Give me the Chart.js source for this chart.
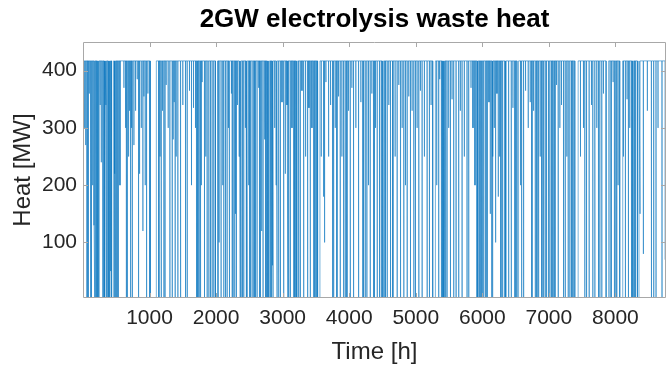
<!DOCTYPE html>
<html>
<head>
<meta charset="utf-8">
<script src="https://cdn.jsdelivr.net/npm/chart.js@4.4.1/dist/chart.umd.min.js"></script>
<style>
  html, body { margin: 0; padding: 0; background: #fff; }
  #wrap { width: 668px; height: 365px; }
</style>
</head>
<body>
<div id="wrap"><canvas id="heatChart" width="668" height="365"></canvas></div>
<script>
// Hourly waste heat of a 2 GW electrolyser over one year.
// The plant runs at full load most hours and drops out in short dips.
const fullLoadMW = 417
const yearHours = 8760

// dips per quarter: [first low hour, hours spent low, heat while low (MW)]
const dipsQ1 = [
  [20, 2, 300], [40, 2, 270], [58, 1, 3], [75, 3, 3], [95, 1, 360], [115, 2, 3], [125, 3, 3], [145, 1, 200],
  [165, 2, 130], [178, 1, 3], [190, 2, 3], [203, 1, 3], [215, 3, 3], [225, 2, 3], [240, 2, 3], [258, 1, 340],
  [275, 1, 240], [295, 5, 3], [315, 2, 3], [330, 1, 3], [345, 2, 340], [355, 3, 3], [375, 2, 3], [390, 3, 3],
  [405, 1, 3], [415, 2, 50], [430, 30, 3], [470, 2, 3], [480, 1, 220], [490, 2, 3], [505, 1, 3], [525, 4, 3],
  [555, 2, 200], [615, 1, 370], [640, 1, 300], [652, 1, 3],
  [665, 3, 3], [685, 1, 250], [700, 1, 330], [715, 2, 3], [728, 1, 300], [740, 3, 3], [765, 1, 270], [790, 1, 330],
  [815, 1, 385], [835, 1, 3], [850, 1, 220], [875, 2, 300], [900, 1, 120], [915, 1, 355], [935, 1, 200], [955, 2, 3],
  [975, 1, 360], [1005, 4, 3], [1012, 90, 3], [1140, 2, 3],
  [1158, 1, 250], [1175, 3, 3], [1195, 1, 330], [1215, 2, 3], [1233, 1, 3], [1250, 1, 375], [1280, 1, 300],
  [1305, 2, 3], [1340, 3, 3], [1355, 1, 280], [1370, 1, 345], [1385, 1, 3], [1400, 1, 250], [1425, 2, 3],
  [1465, 3, 3], [1500, 1, 340], [1540, 2, 3], [1565, 3, 3],
  [1600, 1, 365], [1630, 1, 200], [1660, 1, 335], [1690, 1, 300],
  [1705, 2, 3], [1725, 3, 3], [1745, 2, 3], [1765, 3, 3], [1778, 1, 200],
  [1790, 1, 380], [1825, 2, 3], [1845, 1, 250], [1865, 2, 3],
  [1890, 3, 3], [1915, 2, 3], [1940, 2, 3], [1965, 2, 3],
  [1990, 35, 3], [2030, 1, 3], [2045, 1, 100], [2075, 1, 3], [2100, 1, 200], [2115, 2, 3],
  [2140, 3, 3], [2165, 2, 3]
]
const dipsQ2 = [
  [2185, 1, 300], [2195, 1, 3], [2205, 3, 3], [2230, 1, 360], [2242, 1, 3], [2255, 2, 3], [2280, 1, 3], [2290, 1, 150],
  [2305, 1, 3], [2320, 1, 340], [2345, 1, 250], [2360, 1, 3], [2375, 2, 3], [2395, 3, 3], [2415, 2, 3], [2440, 1, 300],
  [2452, 1, 3], [2465, 3, 3], [2490, 1, 200], [2503, 1, 3], [2515, 2, 3], [2540, 3, 3], [2565, 2, 3], [2578, 1, 3],
  [2590, 3, 3], [2615, 2, 3], [2640, 1, 370], [2652, 1, 3], [2665, 3, 3], [2685, 1, 120], [2705, 2, 3], [2730, 1, 280],
  [2742, 1, 3], [2755, 3, 3], [2768, 2, 3], [2780, 2, 3], [2793, 3, 3], [2805, 2, 3], [2818, 2, 3], [2830, 3, 3],
  [2843, 1, 60], [2855, 2, 3], [2880, 1, 300], [2900, 1, 200], [2915, 3, 3], [2940, 2, 3], [2965, 3, 3], [2990, 1, 345],
  [3015, 2, 3], [3040, 1, 220], [3065, 1, 340], [3078, 1, 3], [3090, 3, 3], [3115, 2, 3], [3140, 1, 300], [3165, 3, 3],
  [3178, 2, 3], [3190, 2, 3], [3203, 3, 3], [3215, 2, 3], [3228, 2, 3], [3240, 3, 3], [3265, 2, 3], [3290, 1, 365],
  [3315, 3, 3], [3345, 1, 250], [3375, 2, 3], [3395, 1, 335], [3415, 2, 3], [3440, 1, 300], [3465, 3, 3], [3485, 2, 3],
  [3510, 1, 3], [3525, 35, 3], [3580, 1, 250], [3615, 1, 180], [3630, 1, 100], [3650, 1, 380], [3690, 2, 250], [3720, 1, 340],
  [3750, 1, 3], [3765, 3, 3], [3790, 1, 300], [3815, 2, 3], [3840, 1, 355], [3865, 2, 3], [3890, 1, 250], [3915, 3, 3],
  [3940, 2, 3], [3965, 2, 3], [3990, 1, 330], [4015, 3, 3], [4040, 1, 370], [4065, 2, 3], [4100, 1, 300], [4140, 3, 3],
  [4175, 1, 345], [4203, 1, 3], [4215, 2, 3], [4240, 3, 3], [4265, 2, 3], [4290, 1, 200], [4315, 3, 3], [4340, 1, 360],
  [4365, 2, 3]
]
const dipsQ3 = [
  [4380, 1, 3], [4395, 1, 300], [4420, 3, 3], [4455, 2, 3], [4482, 1, 3], [4495, 3, 3], [4508, 2, 3], [4520, 2, 3],
  [4533, 3, 3], [4545, 2, 3], [4570, 3, 3], [4595, 1, 340], [4620, 2, 3], [4655, 3, 3], [4690, 1, 250], [4720, 2, 3],
  [4745, 1, 375], [4770, 3, 3], [4795, 1, 300], [4820, 2, 3], [4845, 1, 200], [4870, 3, 3], [4895, 1, 355], [4920, 2, 3],
  [4945, 1, 330], [4970, 3, 3], [4995, 2, 3], [5020, 1, 300], [5045, 3, 3], [5070, 1, 365], [5095, 2, 3], [5130, 1, 250],
  [5170, 3, 3], [5205, 2, 3], [5230, 1, 340], [5255, 40, 3], [5315, 1, 200], [5345, 1, 3], [5360, 1, 385], [5385, 2, 3],
  [5398, 3, 3], [5410, 2, 3], [5423, 2, 3], [5435, 3, 3], [5450, 2, 3], [5470, 2, 3], [5495, 1, 300], [5520, 3, 3],
  [5545, 1, 350], [5570, 2, 3], [5605, 3, 3], [5645, 2, 3], [5670, 1, 330], [5695, 3, 3], [5730, 1, 250], [5770, 2, 3],
  [5795, 3, 3], [5830, 1, 370], [5860, 1, 300], [5890, 1, 200], [5920, 2, 3], [5935, 3, 3], [5955, 2, 3], [5970, 2, 3],
  [5985, 3, 3], [6000, 2, 3], [6020, 2, 3], [6045, 3, 3], [6070, 2, 3], [6100, 1, 345], [6120, 1, 150], [6145, 3, 3],
  [6160, 1, 250], [6180, 1, 300], [6200, 1, 100], [6220, 1, 360], [6240, 1, 180], [6260, 1, 250], [6280, 1, 3], [6305, 2, 3],
  [6340, 3, 3], [6355, 2, 3], [6395, 3, 3], [6435, 2, 3], [6460, 1, 335], [6485, 3, 3], [6500, 2, 3], [6520, 25, 3]
]
const dipsQ4 = [
  [6575, 1, 200], [6590, 3, 3], [6620, 2, 3], [6650, 1, 365], [6690, 1, 300], [6720, 1, 345], [6745, 2, 3], [6770, 1, 330],
  [6795, 3, 3], [6820, 2, 3], [6845, 3, 3], [6870, 1, 250], [6895, 2, 3], [6920, 3, 3], [6945, 2, 3], [6965, 2, 3],
  [6995, 3, 3], [7015, 2, 3], [7045, 3, 3], [7065, 2, 3], [7090, 3, 3], [7115, 1, 375], [7140, 2, 3], [7165, 1, 300],
  [7190, 1, 340], [7220, 2, 3], [7245, 3, 3], [7270, 1, 250], [7290, 2, 3], [7315, 2, 3], [7345, 3, 3], [7365, 2, 3],
  [7390, 50, 3], [7475, 1, 250], [7520, 1, 300], [7540, 1, 3], [7565, 3, 3], [7605, 2, 3], [7640, 1, 340], [7660, 2, 3],
  [7690, 3, 3], [7720, 1, 300], [7745, 2, 3], [7765, 3, 3], [7795, 2, 3], [7820, 1, 360], [7860, 30, 3], [7900, 1, 3],
  [7920, 1, 3], [7940, 1, 3], [7965, 1, 380], [7985, 1, 3], [8005, 3, 3], [8020, 2, 3], [8040, 1, 200], [8065, 45, 3],
  [8120, 1, 250], [8150, 1, 3], [8175, 1, 350], [8195, 2, 3], [8215, 1, 300], [8240, 3, 3], [8255, 2, 3], [8265, 1, 3],
  [8275, 3, 3], [8288, 1, 3], [8300, 2, 3], [8330, 25, 3], [8370, 1, 150], [8420, 1, 80], [8480, 1, 330], [8540, 3, 3],
  [8575, 2, 3], [8610, 1, 3], [8640, 1, 300], [8700, 1, 3], [8750, 12, 70]
]

const timeTicks = [1000, 2000, 3000, 4000, 5000, 6000, 7000, 8000]
const heatTicks = [100, 200, 300, 400]

// expand the dips into an hourly trace
const trace = [{ x: 1, y: fullLoadMW }]
;[...dipsQ1, ...dipsQ2, ...dipsQ3, ...dipsQ4].forEach(([h, len, low]) => {
  trace.push({ x: h - 1, y: fullLoadMW })
  trace.push({ x: h, y: low })
  trace.push({ x: h + len - 1, y: low })
  trace.push({ x: h + len, y: fullLoadMW })
})
trace.push({ x: yearHours + 10, y: fullLoadMW })

const fontFamily = "'Liberation Sans', Arial, Helvetica, sans-serif"
const boxColor = '#a8a8a8'

// box round the plot with inward ticks on all four sides
const axesBox = {
  id: 'axesBox',
  afterDatasetsDraw(chart) {
    const { ctx, chartArea: a, scales: { x, y } } = chart
    const len = 5
    ctx.save()
    ctx.strokeStyle = boxColor
    ctx.lineWidth = 1
    ctx.beginPath()
    ctx.rect(a.left + 0.5, a.top + 0.5, a.right - a.left - 1, a.bottom - a.top - 1)
    timeTicks.forEach(t => {
      const px = Math.round(x.getPixelForValue(t)) + 0.5
      ctx.moveTo(px, a.bottom)
      ctx.lineTo(px, a.bottom - len)
      ctx.moveTo(px, a.top)
      ctx.lineTo(px, a.top + len)
    })
    heatTicks.forEach(v => {
      const py = Math.round(y.getPixelForValue(v)) + 0.5
      ctx.moveTo(a.left, py)
      ctx.lineTo(a.left + len, py)
      ctx.moveTo(a.right, py)
      ctx.lineTo(a.right - len, py)
    })
    ctx.stroke()
    ctx.restore()
  }
}

new Chart(document.getElementById('heatChart'), {
  type: 'line',
  data: {
    datasets: [{
      label: 'Waste heat',
      data: trace,
      borderColor: '#0072BD',
      borderWidth: 0.55,
      pointRadius: 0,
      tension: 0,
      fill: false
    }]
  },
  options: {
    responsive: false,
    devicePixelRatio: 1,
    animation: false,
    parsing: false,
    layout: { padding: { left: 0, right: 2, top: 0, bottom: 0 } },
    plugins: {
      legend: { display: false },
      tooltip: { enabled: false },
      title: {
        display: true,
        text: '2GW electrolysis waste heat',
        fullSize: false,
        color: '#000',
        font: { family: fontFamily, size: 26, weight: 'bold', lineHeight: 1 },
        padding: { top: 7, bottom: 9 }
      }
    },
    scales: {
      x: {
        type: 'linear',
        min: 0,
        max: yearHours,
        afterBuildTicks: s => { s.ticks = timeTicks.map(v => ({ value: v })) },
        afterFit: s => { s.height = 67 },
        grid: { display: false, drawTicks: false },
        border: { display: false },
        ticks: {
          color: '#262626',
          padding: 8,
          maxRotation: 0,
          font: { family: fontFamily, size: 21 },
          callback: v => String(v)
        },
        title: {
          display: true,
          text: 'Time [h]',
          color: '#262626',
          font: { family: fontFamily, size: 24, lineHeight: 1 },
          padding: { top: 1, bottom: 1 }
        }
      },
      y: {
        type: 'linear',
        min: 3,
        max: 450,
        afterBuildTicks: s => { s.ticks = heatTicks.map(v => ({ value: v })) },
        afterFit: s => { s.width = 83 },
        grid: { display: false, drawTicks: false },
        border: { display: false },
        ticks: {
          color: '#262626',
          padding: 6,
          font: { family: fontFamily, size: 21 },
          callback: v => String(v)
        },
        title: {
          display: true,
          text: 'Heat [MW]',
          color: '#262626',
          font: { family: fontFamily, size: 24, lineHeight: 1 },
          padding: { top: 11, bottom: 0 }
        }
      }
    }
  },
  plugins: [axesBox]
})
</script>
</body>
</html>
